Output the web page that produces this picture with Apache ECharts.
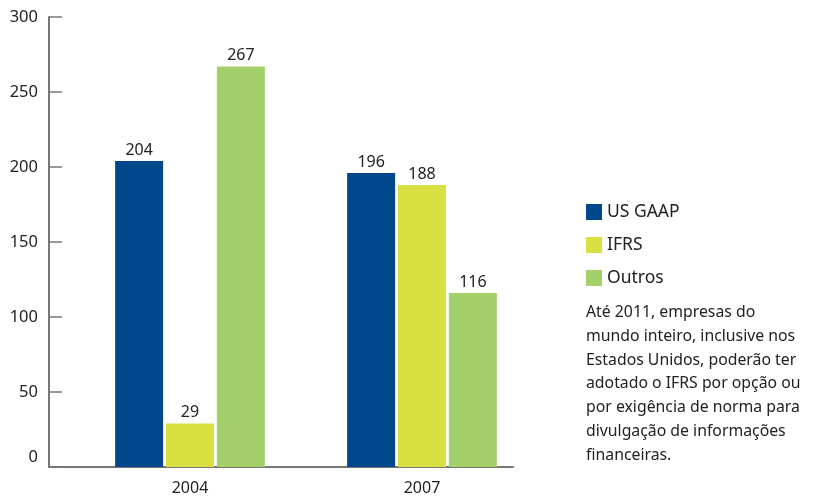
<!DOCTYPE html>
<html><head><meta charset="utf-8">
<script src="https://cdn.jsdelivr.net/npm/echarts@6/dist/echarts.min.js"></script>
<style>html,body{margin:0;padding:0;background:#fff}#c{width:821px;height:497px}</style>
</head><body><div id="c"></div>
<script>
const categories = ['2004', '2007'];
const seriesNames = ['US GAAP', 'IFRS', 'Outros'];
const usGaap = [204, 196];
const ifrs = [29, 188];
const outros = [267, 116];
const yTicks = [0, 50, 100, 150, 200, 250, 300];
const note = 'Até 2011, empresas do\nmundo inteiro, inclusive nos\nEstados Unidos, poderão ter\nadotado o IFRS por opção ou\npor exigência de norma para\ndivulgação de informações\nfinanceiras.';

const colors = ['#00478c', '#d8e042', '#a3d06b'];
const font = 'Noto Sans';
const txt = '#222';
const chart = echarts.init(document.getElementById('c'));
const lbl = {show: true, position: 'top', distance: 3, color: txt, fontSize: 16, fontFamily: font};
const yMin = yTicks[0], yMax = yTicks[yTicks.length - 1];
chart.setOption({
  animation: false,
  textStyle: {fontFamily: font},
  grid: [
    {left: 49, right: 308, top: 17, bottom: 30},
    {left: 74, right: 283, top: 17, bottom: 30}
  ],
  legend: {
    orient: 'vertical', left: 581, top: 198, itemWidth: 16, itemHeight: 16, itemGap: 15,
    icon: 'rect', data: seriesNames,
    textStyle: {fontSize: 17.5, color: txt, fontFamily: font}
  },
  xAxis: [
    {
      gridIndex: 0, type: 'category', data: categories,
      axisLine: {lineStyle: {color: '#777', width: 2}},
      axisTick: {show: false}, axisLabel: {show: false}
    },
    {
      gridIndex: 1, type: 'category', data: categories,
      axisLine: {show: false}, axisTick: {show: false},
      axisLabel: {color: txt, fontSize: 16, fontFamily: font, margin: 13}
    }
  ],
  yAxis: [
    {
      gridIndex: 0, type: 'value', min: yMin, max: yMax, interval: 50,
      splitLine: {show: false},
      axisLine: {show: true, lineStyle: {color: '#777', width: 2}},
      axisTick: {show: true, inside: true, length: 13, lineStyle: {color: '#777', width: 1.5}},
      axisLabel: {
        color: txt, fontSize: 16.5, fontFamily: font, margin: 11,
        formatter: v => v === 0 ? '{z|0}' : String(v),
        rich: {z: {fontSize: 16.5, color: txt, fontFamily: font, padding: [0, 0, 20, 0]}}
      }
    },
    {
      gridIndex: 1, type: 'value', min: yMin, max: yMax, interval: 50, show: false
    }
  ],
  series: [
    {name: seriesNames[0], type: 'bar', xAxisIndex: 1, yAxisIndex: 1, data: usGaap, barWidth: 48, barGap: '6%', itemStyle: {color: colors[0]}, label: lbl},
    {name: seriesNames[1], type: 'bar', xAxisIndex: 1, yAxisIndex: 1, data: ifrs, barWidth: 48, barGap: '6%', itemStyle: {color: colors[1]}, label: lbl},
    {name: seriesNames[2], type: 'bar', xAxisIndex: 1, yAxisIndex: 1, data: outros, barWidth: 48, barGap: '6%', itemStyle: {color: colors[2]}, label: lbl}
  ],
  graphic: [{
    type: 'text', left: 586, top: 301,
    style: {text: note, fontSize: 15.8, lineHeight: 23.7, fill: txt, fontFamily: font}
  }]
});
</script></body></html>
